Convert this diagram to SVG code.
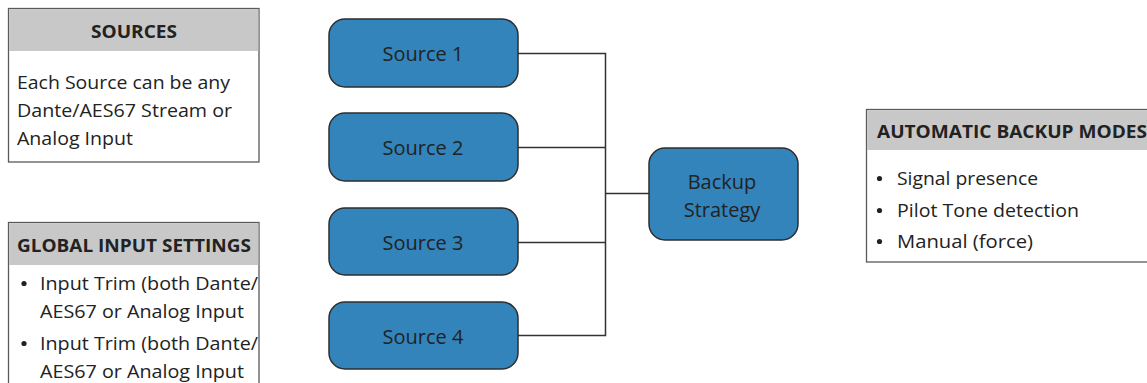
<svg xmlns="http://www.w3.org/2000/svg" width="1147" height="383" viewBox="0 0 1147 383">
<style>
.panel{fill:#ffffff;stroke:#5a5a5a;stroke-width:1.3}
.hdr{fill:#c8c8c8}
.ht{font-family:"Open Sans","Liberation Sans",sans-serif;font-weight:bold;font-size:18px;fill:#222}
.bt{font-family:"Open Sans","Liberation Sans",sans-serif;font-size:19px;fill:#222}
.node{fill:#3384bb;stroke:#2e2e2e;stroke-width:1.5}
.nt{font-family:"Open Sans","Liberation Sans",sans-serif;font-size:20px;fill:#222;text-anchor:middle}
.conn{fill:none;stroke:#333;stroke-width:1.5}
.dot{fill:#222}
</style>
<rect width="1147" height="383" fill="#fff"/>
<g id="sources-panel">
<rect class="panel" x="8.5" y="8.5" width="250.5" height="153.5"/>
<rect class="hdr" x="9.2" y="9.2" width="249.1" height="41.8"/>
<text class="ht" x="134" y="38" text-anchor="middle" textLength="86" lengthAdjust="spacingAndGlyphs">SOURCES</text>
<text class="bt" x="17" y="89" textLength="213" lengthAdjust="spacingAndGlyphs">Each Source can be any</text>
<text class="bt" x="17" y="117" textLength="215" lengthAdjust="spacingAndGlyphs">Dante/AES67 Stream or</text>
<text class="bt" x="17" y="145" textLength="116" lengthAdjust="spacingAndGlyphs">Analog Input</text>
</g>
<g id="global-panel">
<rect class="panel" x="8.5" y="222.5" width="250.5" height="172"/>
<rect class="hdr" x="9.2" y="223.2" width="249.1" height="41.8"/>
<text class="ht" x="17" y="252" textLength="234" lengthAdjust="spacingAndGlyphs">GLOBAL INPUT SETTINGS</text>
<circle class="dot" cx="24" cy="283.5" r="2.6"/>
<text class="bt" x="40" y="290" textLength="218" lengthAdjust="spacingAndGlyphs">Input Trim (both Dante/</text>
<text class="bt" x="40" y="318" textLength="204" lengthAdjust="spacingAndGlyphs">AES67 or Analog Input</text>
<circle class="dot" cx="24" cy="343.5" r="2.6"/>
<text class="bt" x="40" y="350" textLength="218" lengthAdjust="spacingAndGlyphs">Input Trim (both Dante/</text>
<text class="bt" x="40" y="378" textLength="204" lengthAdjust="spacingAndGlyphs">AES67 or Analog Input</text>
</g>
<g id="connectors">
<path class="conn" d="M518 53.5H605.5V335.5H518"/>
<path class="conn" d="M518 147.5H605.5"/>
<path class="conn" d="M518 242.5H605.5"/>
<path class="conn" d="M605.5 193.5H649"/>
</g>
<g id="source1">
<rect class="node" x="329" y="19" width="189" height="68" rx="16"/>
<text class="nt" x="423" y="61">Source 1</text>
</g>
<g id="source2">
<rect class="node" x="329" y="113" width="189" height="68" rx="16"/>
<text class="nt" x="423" y="155">Source 2</text>
</g>
<g id="source3">
<rect class="node" x="329" y="208" width="189" height="67" rx="16"/>
<text class="nt" x="423" y="250">Source 3</text>
</g>
<g id="source4">
<rect class="node" x="329" y="302" width="189" height="67" rx="16"/>
<text class="nt" x="423" y="344">Source 4</text>
</g>
<g id="backup-strategy">
<rect class="node" x="649" y="148" width="149" height="92" rx="16"/>
<text class="nt" x="722" y="189">Backup</text>
<text class="nt" x="722" y="217">Strategy</text>
</g>
<g id="modes-panel">
<rect class="panel" x="866.5" y="109.5" width="300" height="152.5"/>
<rect class="hdr" x="867.2" y="110.2" width="290" height="39.8"/>
<text class="ht" x="877" y="137.5" textLength="270" lengthAdjust="spacingAndGlyphs">AUTOMATIC BACKUP MODES</text>
<circle class="dot" cx="879.5" cy="178.5" r="2.6"/>
<text class="bt" x="897" y="185" textLength="141" lengthAdjust="spacingAndGlyphs">Signal presence</text>
<circle class="dot" cx="879.5" cy="210.5" r="2.6"/>
<text class="bt" x="897" y="217" textLength="182" lengthAdjust="spacingAndGlyphs">Pilot Tone detection</text>
<circle class="dot" cx="879.5" cy="241.5" r="2.6"/>
<text class="bt" x="897" y="248" textLength="136" lengthAdjust="spacingAndGlyphs">Manual (force)</text>
</g>
</svg>
